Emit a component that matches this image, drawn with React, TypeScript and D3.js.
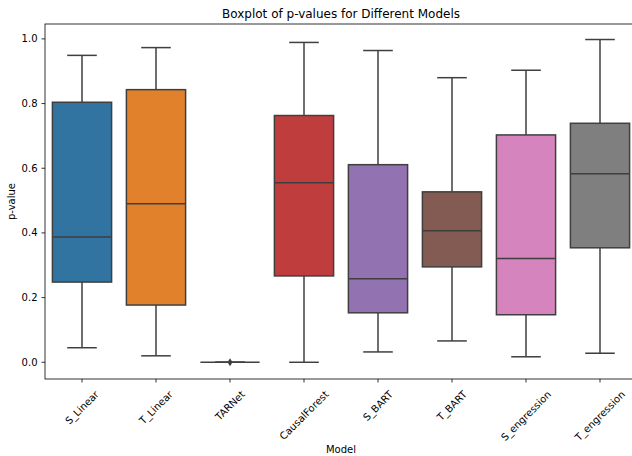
import React from "react";
import * as d3 from "d3";

const models = ["S_Linear", "T_Linear", "TARNet", "CausalForest", "S_BART", "T_BART", "S_engression", "T_engression"];
const whiskerLow = [0.045, 0.02, 0.0, 0.0, 0.032, 0.066, 0.017, 0.028];
const q1 = [0.248, 0.177, 0.0, 0.267, 0.153, 0.295, 0.147, 0.354];
const median = [0.387, 0.49, 0.0, 0.555, 0.258, 0.407, 0.321, 0.583];
const q3 = [0.804, 0.843, 0.0, 0.763, 0.611, 0.527, 0.703, 0.739];
const whiskerHigh = [0.949, 0.973, 0.0, 0.989, 0.964, 0.88, 0.903, 0.998];
const fliers: number[][] = [[], [], [0.0], [], [], [], [], []];
const colors = ["#3274a1", "#e1812c", "#3a923a", "#c03d3e", "#9372b2", "#845b53", "#d684bd", "#7f7f7f"];
const yTicks = [0.0, 0.2, 0.4, 0.6, 0.8, 1.0];

const W = 632, H = 456;
const left = 45, right = 637, top = 24, bottom = 379;
const edge = "#3f3f3f";
const font = "DejaVu Sans, sans-serif";

let ctx: CanvasRenderingContext2D | null = null;
function textWidth(s: string, size: number) {
  if (!ctx) ctx = document.createElement("canvas").getContext("2d");
  if (!ctx) return s.length * size * 0.6;
  ctx.font = `${size}px "DejaVu Sans"`;
  return ctx.measureText(s).width;
}

export default function App() {
  const x = d3.scaleBand<string>().domain(models).range([left, right]).paddingInner(0).paddingOuter(0);
  const y = d3.scaleLinear().domain([-0.0517, 1.046]).range([bottom, top]);
  const bw = x.bandwidth() * 0.8;
  const fs = 10;
  const th = fs * 1.0;
  return (
    <svg width={W} height={H} style={{ position: "absolute", left: 0, top: 0, background: "#fff" }} fontFamily={font}>
      <defs>
        <clipPath id="clip"><rect x={left} y={top} width={right - left} height={bottom - top} /></clipPath>
      </defs>
      <g clipPath="url(#clip)">
        {models.map((m, i) => {
          const cx = x(m)! + x.bandwidth() / 2;
          return (
            <g key={m}>
              <line x1={cx} x2={cx} y1={y(q3[i])} y2={y(whiskerHigh[i])} stroke={edge} strokeWidth={1.5} />
              <line x1={cx} x2={cx} y1={y(q1[i])} y2={y(whiskerLow[i])} stroke={edge} strokeWidth={1.5} />
              <line x1={cx - bw / 4} x2={cx + bw / 4} y1={y(whiskerHigh[i])} y2={y(whiskerHigh[i])} stroke={edge} strokeWidth={1.5} />
              <line x1={cx - bw / 4} x2={cx + bw / 4} y1={y(whiskerLow[i])} y2={y(whiskerLow[i])} stroke={edge} strokeWidth={1.5} />
              <rect x={cx - bw / 2} y={y(q3[i])} width={bw} height={Math.max(0, y(q1[i]) - y(q3[i]))} fill={colors[i]} stroke={edge} strokeWidth={1.5} />
              <line x1={cx - bw / 2} x2={cx + bw / 2} y1={y(median[i])} y2={y(median[i])} stroke={edge} strokeWidth={1.5} />
              {fliers[i].map((f, j) => (
                <path key={j} d={`M${cx},${y(f) - 4} L${cx + 2.5},${y(f)} L${cx},${y(f) + 4} L${cx - 2.5},${y(f)} Z`} fill={edge} />
              ))}
            </g>
          );
        })}
      </g>
      <rect x={left} y={top} width={right - left} height={bottom - top} fill="none" stroke="#000" strokeWidth={0.8} />
      {yTicks.map((t) => (
        <g key={t}>
          <line x1={left - 3.5} x2={left} y1={y(t)} y2={y(t)} stroke="#000" strokeWidth={0.8} />
          <text x={left - 7.5} y={y(t)} dy="0.35em" textAnchor="end" fontSize={fs} fill="#000">{t.toFixed(1)}</text>
        </g>
      ))}
      {models.map((m) => {
        const cx = x(m)! + x.bandwidth() / 2;
        const L = textWidth(m, fs);
        const ext = (L + th) * Math.SQRT1_2;
        const cy = bottom + 10 + ext / 2;
        return (
          <g key={m}>
            <line x1={cx} x2={cx} y1={bottom} y2={bottom + 3.5} stroke="#000" strokeWidth={0.8} />
            <text transform={`translate(${cx},${cy}) rotate(-45)`} textAnchor="middle" fontSize={fs} dy="0.35em" fill="#000">{m}</text>
          </g>
        );
      })}
      <text x={(left + right) / 2} y={18} textAnchor="middle" fontSize={12} fill="#000">Boxplot of p-values for Different Models</text>
      <text x={(left + right) / 2} y={453} textAnchor="middle" fontSize={fs} fill="#000">Model</text>
      <text transform={`translate(15,${(top + bottom) / 2}) rotate(-90)`} textAnchor="middle" fontSize={fs} fill="#000">p-value</text>
    </svg>
  );
}
